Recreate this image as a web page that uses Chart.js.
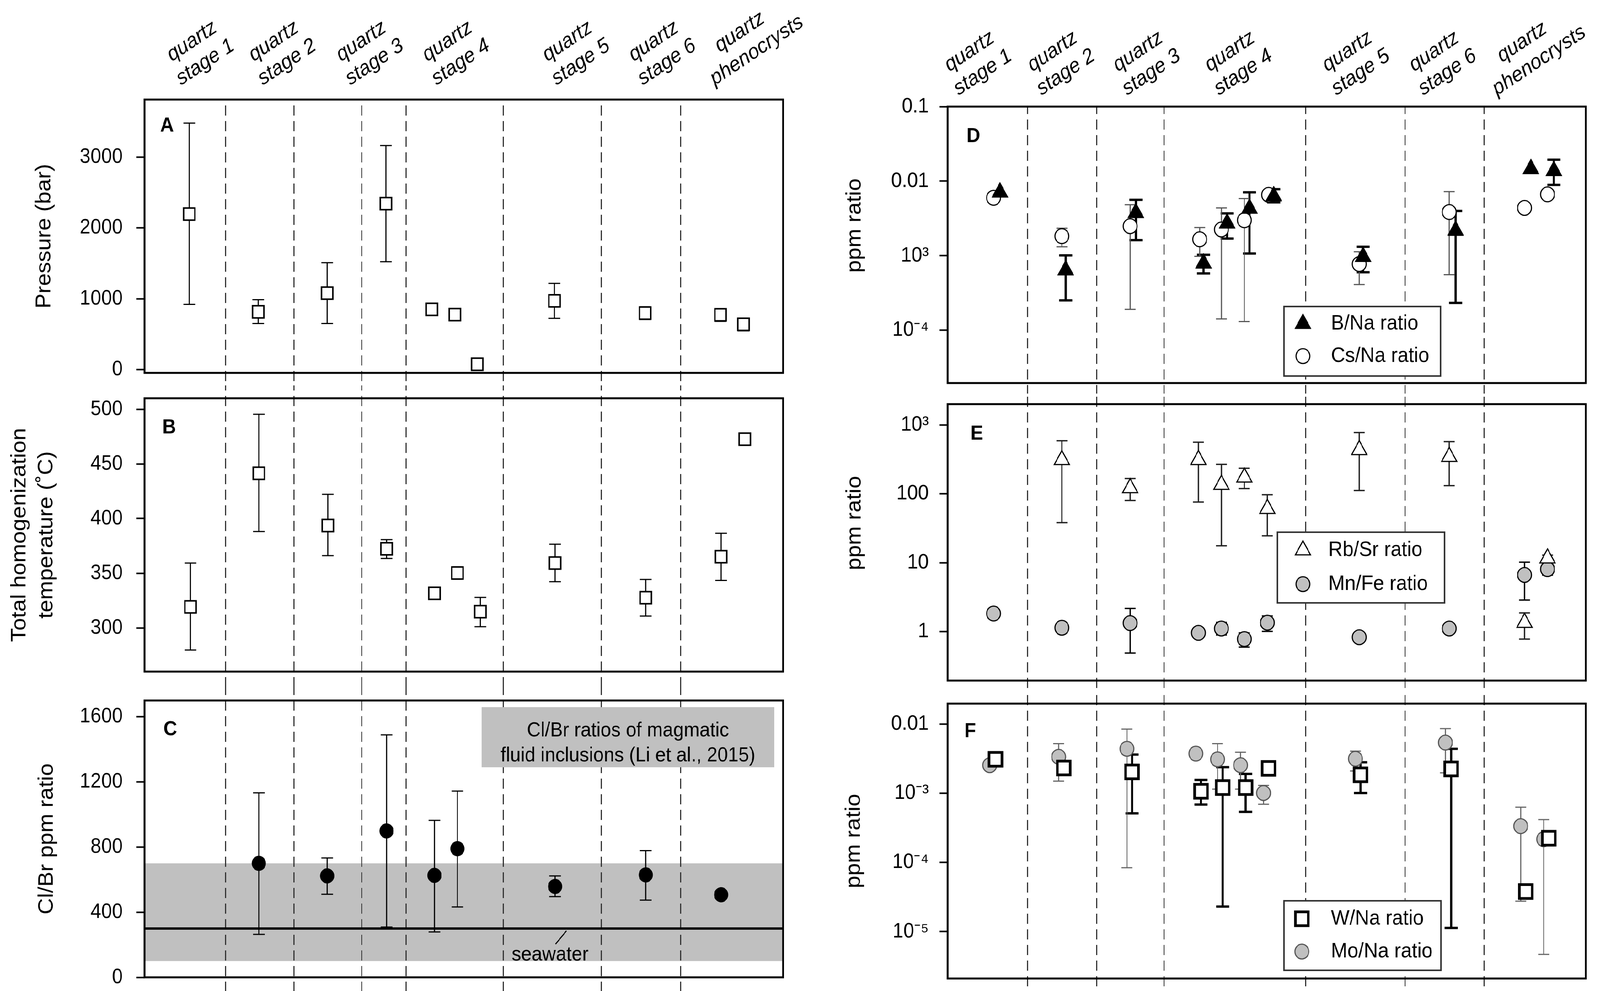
<!DOCTYPE html>
<html>
<head>
<meta charset="utf-8">
<title>Fluid inclusion data by quartz stage</title>
<script src="https://cdn.jsdelivr.net/npm/chart.js@4.4.1/dist/chart.umd.min.js"></script>
<style>
  html, body { margin: 0; padding: 0; background: #fff; overflow: hidden; width: 100%; height: 100%; }
  #frame { position: absolute; left: 0; top: 0; overflow: hidden; }
  #sheet { width: 4395px; height: 2538px; position: absolute; left: 0; top: 0; transform-origin: 0 0; }
  canvas { position: absolute; }
</style>
</head>
<body>
<div id="frame">
<div id="sheet">
<canvas id="pA"></canvas>
<canvas id="pB"></canvas>
<canvas id="pC"></canvas>
<canvas id="pD"></canvas>
<canvas id="pE"></canvas>
<canvas id="pF"></canvas>
</div>
</div>
<script>
const FONT = "'Liberation Sans', Arial, sans-serif";

// column headings (x in % of panel width)
const stageLabels = [
  ['\u2009quartz', 'stage 1'], ['\u2009quartz', 'stage 2'], ['\u2009quartz', 'stage 3'],
  ['\u2009quartz', 'stage 4'], ['\u2009quartz', 'stage 5'], ['\u2009quartz', 'stage 6'],
  ['   \u2009quartz', 'phenocrysts']
];
const leftLabelX  = [7.2, 20.0, 33.7, 47.2, 66.0, 79.5, 90.8];
const rightLabelX = [3.2, 16.2, 29.6, 44.0, 62.4, 76.0, 87.6];
const leftSeparators  = [12.66, 23.38, 33.98, 40.93, 56.16, 71.49, 83.92];
const rightSeparators = [12.49, 23.33, 33.89, 56.08, 71.65, 84.03];

// A - pressure (bar)
const aX  = [7.0, 17.8, 28.6, 37.8, 45.0, 48.6, 52.1, 64.2, 78.4, 90.2, 93.8];
const aP  = [2195, 816, 1080, 2342, 851, 777, 77, 971, 798, 774, 640];
const aHi = [3478, 988, 1509, 3162, 935, null, null, 1217, 886, 858, 724];
const aLo = [921, 651, 651, 1523, 770, null, null, 724, 710, 682, 549];
const aTicks = [0, 1000, 2000, 3000];

// B - total homogenization temperature
const bX  = [7.2, 17.9, 28.7, 37.9, 45.4, 49.0, 52.6, 64.3, 78.5, 90.3, 94.0];
const bT  = [319.2, 441.4, 393.6, 372.3, 331.6, 350.2, 314.8, 359.3, 327.6, 365.1, 472.6];
const bHi = [359.3, 495.4, 422.1, 380.7, null, null, 327.9, 376.5, 344.3, 386.5, null];
const bLo = [279.7, 388.1, 366.1, 363.5, null, null, 301.1, 342.2, 310.8, 343.4, null];
const bTicks = [300, 350, 400, 450, 500];

// C - Cl/Br
const cX  = [17.9, 28.6, 37.9, 45.4, 49.0, 64.3, 78.5, 90.3];
const cR  = [700, 623, 899, 626, 790, 558, 629, 507];
const cHi = [1133, 733, 1489, 964, 1144, 623, 778, null];
const cLo = [264, 510, 309, 279, 432, 496, 474, null];
const cTicks = [0, 400, 800, 1200, 1600];
const magmaticBand = [100, 700];
const seawaterClBr = 300;

// D - B/Na and Cs/Na
const dTriX = [8.2, 18.5, 29.5, 40.1, 43.8, 47.3, 51.1, 65.1, 79.6, 91.4, 95.0];
const dBNa  = [7.08e-3, 6.4e-4, 3.76e-3, 7.9e-4, 2.72e-3, 4.3e-3, 6.3e-3, 9.7e-4, 2.17e-3, 1.46e-2, 1.375e-2];
const dBHi  = [null, 1.01e-3, 5.62e-3, 1.03e-3, 3.7e-3, 7.08e-3, 7.8e-3, 1.32e-3, 3.99e-3, null, 1.94e-2];
const dBLo  = [null, 2.52e-4, 1.62e-3, 5.79e-4, 1.70e-3, 1.07e-3, 5.2e-3, 6.0e-4, 2.33e-4, null, 8.9e-3];
const dCirX = [7.2, 17.9, 28.6, 39.5, 42.9, 46.5, 50.3, 64.5, 78.6, 90.4, 94.0];
const dCsNa = [5.98e-3, 1.83e-3, 2.49e-3, 1.66e-3, 2.25e-3, 2.99e-3, 6.56e-3, 7.74e-4, 3.85e-3, 4.38e-3, 6.65e-3];
const dCsHi = [null, 2.34e-3, 4.83e-3, 2.39e-3, 4.37e-3, 5.85e-3, null, 1.13e-3, 7.24e-3, null, null];
const dCsLo = [null, 1.32e-3, 1.91e-4, 9.8e-4, 1.42e-4, 1.31e-4, null, 4.11e-4, 5.57e-4, null, null];
const dTicks = [1e-4, 1e-3, 1e-2, 1e-1];
const dTickText = ['10\u207B\u2074', '10\u00B3', '0.01', '0.1'];

// E - Rb/Sr and Mn/Fe
const eTriX = [17.9, 28.6, 39.3, 42.9, 46.5, 50.1, 64.5, 78.6, 90.4, 94.0];
const eRbSr = [311, 121.6, 311, 135.6, 173.3, 60.6, 432.6, 345, 1.35, 11.6];
const eRbHi = [589.6, 166.7, 560, 267, 234.6, 97, 773, 570.8, 1.87, 12.9];
const eRbLo = [38.1, 80, 76, 17.6, 119, 24.6, 111.7, 131.3, 0.78, 10];
const eCirX = [7.2, 17.9, 28.6, 39.3, 42.9, 46.5, 50.1, 64.5, 78.6, 90.4, 94.0];
const eMnFe = [1.83, 1.14, 1.33, 0.96, 1.11, 0.78, 1.35, 0.83, 1.11, 6.65, 8.07];
const eMnHi = [null, null, 2.17, null, 1.36, 0.96, 1.69, null, null, 10.2, 9.9];
const eMnLo = [null, null, 0.489, null, 0.895, 0.597, 1.01, null, null, 2.87, 6.6];
const eTicks = [1, 10, 100, 1000];
const eTickText = ['1', '10', '100', '10\u00B3'];

// F - W/Na and Mo/Na
const fSqX  = [7.5, 18.2, 28.9, 39.7, 43.1, 46.7, 50.3, 64.7, 78.9, 90.6, 94.2];
const fWNa  = [3.1e-3, 2.32e-3, 2.04e-3, 1.07e-3, 1.21e-3, 1.21e-3, 2.29e-3, 1.85e-3, 2.25e-3, 3.8e-5, 2.24e-4];
const fWHi  = [null, 2.9e-3, 3.63e-3, 1.56e-3, 2.39e-3, 1.91e-3, null, 2.81e-3, 4.4e-3, null, null];
const fWLo  = [null, 1.91e-3, 5.14e-4, 6.87e-4, 2.3e-5, 5.38e-4, null, 1.01e-3, 1.13e-5, null, null];
const fCirX = [6.6, 17.4, 28.1, 38.9, 42.3, 45.9, 49.5, 63.9, 78.0, 89.8, 93.4];
const fMoNa = [2.55e-3, 3.37e-3, 4.4e-3, 3.75e-3, 3.1e-3, 2.55e-3, 1.01e-3, 3.16e-3, 5.41e-3, 3.35e-4, 2.17e-4];
const fMoHi = [null, 5.23e-3, 8.47e-3, null, 5.23e-3, 3.93e-3, 1.3e-3, 4.07e-3, 8.63e-3, 6.3e-4, 4.17e-4];
const fMoLo = [null, 1.5e-3, 8.4e-5, null, 1.15e-3, 1.15e-3, 6.95e-4, 2.1e-3, 1.98e-3, 2.75e-5, 4.69e-6];
const fTicks = [1e-5, 1e-4, 1e-3, 1e-2];
const fTickText = ['10\u207B\u2075', '10\u207B\u2074', '10\u207B\u00B3', '0.01'];

// the sheet is laid out in 4395 x 2538 units; fit it to the real viewport
const sx = window.innerWidth / 4395, sy = window.innerHeight / 2538;
const frame = document.getElementById('frame');
frame.style.width = window.innerWidth + 'px';
frame.style.height = window.innerHeight + 'px';
document.getElementById('sheet').style.transform = 'scale(' + sx + ',' + sy + ')';
const dpr = (window.devicePixelRatio || 1) * Math.max(sx, sy);

Chart.defaults.color = '#000';
Chart.defaults.font.family = FONT;

const pts = (xs, ys) => xs.map((x, i) => ({ x, y: ys[i] }));

// fixed axis sizes so that the plot frames land where they should
function fitTo(size) {
  return s => {
    if (s.isHorizontal()) s.height = size; else s.width = size;
    s.paddingLeft = s.paddingRight = s.paddingTop = s.paddingBottom = 0;
  };
}

function yAxis(o) {
  return {
    type: o.type || 'linear', position: 'left', min: o.min, max: o.max,
    afterBuildTicks: s => { s.ticks = o.ticks.map(v => ({ value: v })); },
    afterFit: fitTo(o.width),
    ticks: {
      autoSkip: false, padding: o.tickPad, font: { size: 53 },
      callback: v => o.text ? o.text[o.ticks.indexOf(v)] : String(v)
    },
    grid: { drawOnChartArea: false, drawTicks: true, tickLength: 22, tickWidth: 4, tickColor: '#000' },
    border: { display: false },
    title: {
      display: true, text: o.title, padding: { top: o.titlePad, bottom: 0 },
      font: { size: 58, lineHeight: o.titleLH || 1.2 }
    }
  };
}

function topAxis(labelX, height, pad) {
  return {
    type: 'linear', position: 'top', min: 0, max: 100,
    afterBuildTicks: s => { s.ticks = labelX.map(v => ({ value: v })); },
    afterFit: fitTo(height),
    ticks: {
      autoSkip: false, minRotation: 32, maxRotation: 32, padding: pad,
      font: { size: 54, style: 'italic', lineHeight: 1.2 },
      callback: v => stageLabels[labelX.indexOf(v)]
    },
    grid: { display: false, drawTicks: false },
    border: { display: false }
  };
}

const decor = {
  id: 'decor',
  beforeDatasetsDraw(chart, args, o) {
    const { ctx, chartArea: a, scales } = chart;
    const y = scales.y;
    ctx.save();
    if (o.band) {
      const y1 = y.getPixelForValue(o.band[1]), y0 = y.getPixelForValue(o.band[0]);
      ctx.fillStyle = '#c0c0c0';
      ctx.fillRect(a.left, y1, a.right - a.left, y0 - y1);
    }
    // dashed stage separators
    const yStart = o.fromTop ? a.top : 0;
    ctx.strokeStyle = '#333';
    ctx.lineWidth = 3;
    ctx.setLineDash([26, 14]);
    ctx.lineDashOffset = -((o.pageY + yStart) % 40);
    o.separators.forEach(v => {
      const x = Math.round(scales.x.getPixelForValue(v)) + 0.5;
      ctx.beginPath(); ctx.moveTo(x, yStart); ctx.lineTo(x, chart.height); ctx.stroke();
    });
    ctx.setLineDash([]);
    if (o.note) {
      const n = o.note;
      ctx.fillStyle = '#c0c0c0';
      ctx.fillRect(a.left + n.x, a.top + n.y, n.w, n.h);
      ctx.fillStyle = '#000';
      ctx.font = '52px ' + FONT;
      ctx.textAlign = 'center'; ctx.textBaseline = 'middle';
      n.lines.forEach((t, i) => ctx.fillText(t, a.left + n.x + n.w / 2, a.top + n.y + n.lineY[i]));
    }
    if (o.seawater != null) {
      const sy = y.getPixelForValue(o.seawater);
      ctx.strokeStyle = '#000'; ctx.lineWidth = 6;
      ctx.beginPath(); ctx.moveTo(a.left, sy); ctx.lineTo(a.right, sy); ctx.stroke();
      const sx = a.left + o.seaLabel.x;
      ctx.lineWidth = 3;
      ctx.beginPath(); ctx.moveTo(sx + 45, sy + 6); ctx.lineTo(sx + 15, sy + 40); ctx.stroke();
      ctx.fillStyle = '#000';
      ctx.font = '52px ' + FONT;
      ctx.textAlign = 'center'; ctx.textBaseline = 'middle';
      ctx.fillText('seawater', sx, sy + 68);
    }
    // error bars
    chart.data.datasets.forEach((ds, i) => {
      if (!ds.hi) return;
      const meta = chart.getDatasetMeta(i);
      ctx.strokeStyle = ds.errColor; ctx.lineWidth = ds.errWidth;
      meta.data.forEach((pt, j) => {
        if (ds.hi[j] == null) return;
        const yh = y.getPixelForValue(ds.hi[j]), yl = y.getPixelForValue(ds.lo[j]);
        const c = ds.errCap;
        ctx.beginPath();
        ctx.moveTo(pt.x, yh); ctx.lineTo(pt.x, yl);
        ctx.moveTo(pt.x - c, yh); ctx.lineTo(pt.x + c, yh);
        ctx.moveTo(pt.x - c, yl); ctx.lineTo(pt.x + c, yl);
        ctx.stroke();
      });
    });
    ctx.restore();
  },
  afterDraw(chart, args, o) {
    const { ctx, chartArea: a } = chart;
    ctx.save();
    if (o.legend) {
      const L = o.legend;
      const bx = a.left + L.x, by = a.top + L.y;
      ctx.fillStyle = '#fff';
      ctx.fillRect(bx, by, L.w, L.h);
      ctx.strokeStyle = '#333'; ctx.lineWidth = 4;
      ctx.strokeRect(bx, by, L.w, L.h);
      L.rows.forEach((dy, i) => {
        const ds = chart.data.datasets[i];
        ctx.fillStyle = ds.pointBackgroundColor;
        ctx.strokeStyle = ds.pointBorderColor;
        ctx.lineWidth = ds.pointBorderWidth;
        Chart.helpers.drawPoint(ctx, {
          pointStyle: ds.pointStyle, radius: ds.pointRadius,
          borderWidth: ds.pointBorderWidth, rotation: 0
        }, bx + L.symX, by + dy);
        ctx.fillStyle = '#000';
        ctx.font = '54px ' + FONT;
        ctx.textAlign = 'left'; ctx.textBaseline = 'middle';
        ctx.fillText(ds.label, bx + L.textX, by + dy);
      });
    }
    // plot frame
    ctx.strokeStyle = '#000'; ctx.lineWidth = 5;
    ctx.strokeRect(a.left, a.top, a.right - a.left, a.bottom - a.top);
    // panel letter
    ctx.fillStyle = '#000';
    ctx.font = 'bold 52px ' + FONT;
    ctx.textAlign = 'left'; ctx.textBaseline = 'alphabetic';
    ctx.fillText(o.letter, a.left + o.letterAt[0], a.top + o.letterAt[1]);
    ctx.restore();
  }
};

function set(label, xs, ys, hi, lo, look, err) {
  return Object.assign({
    label, data: pts(xs, ys), hi, lo,
    errColor: err[0], errWidth: err[1], errCap: err[2]
  }, look);
}

const openSquare = { pointStyle: 'rect', pointRadius: 22, pointBackgroundColor: '#fff', pointBorderColor: '#000', pointBorderWidth: 4 };
const blackDot   = { pointStyle: 'circle', pointRadius: 19, pointBackgroundColor: '#000', pointBorderColor: '#000', pointBorderWidth: 1 };
const thinErr = ['#000', 3, 16];
// the ppm-ratio titles sit a little above centre in D and E
const ppmTitleHigh = '\u2003\u2002\u2009ppm ratio';

function makePanel(id, box, datasets, scales, decorOpts) {
  const c = document.getElementById(id);
  Object.assign(c.style, { left: box.x + 'px', top: box.y + 'px', width: box.w + 'px', height: box.h + 'px' });
  c.width = box.w; c.height = box.h;
  return new Chart(c, {
    type: 'scatter',
    data: { datasets },
    options: {
      responsive: false, maintainAspectRatio: false, devicePixelRatio: dpr,
      animation: false, events: [],
      layout: { padding: { left: 0, right: box.right, top: box.top, bottom: box.bottom } },
      scales: Object.assign({ x: { type: 'linear', min: 0, max: 100, display: false } }, scales),
      plugins: { legend: { display: false }, tooltip: { enabled: false }, decor: Object.assign({ pageY: box.y }, decorOpts) }
    },
    plugins: [decor]
  });
}

// left column
makePanel('pA', { x: 0, y: 0, w: 2300, h: 987, right: 149, top: 0, bottom: 32 },
  [set('Pressure', aX, aP, aHi, aLo, openSquare, thinErr)],
  {
    xTop: topAxis(leftLabelX, 255, 21),
    y: yAxis({ min: -45, max: 3810, ticks: aTicks, width: 397, tickPad: 38, title: 'Pressure (bar)', titlePad: 87 })
  },
  { separators: leftSeparators, fromTop: true, letter: 'A', letterAt: [43, 82] });

makePanel('pB', { x: 0, y: 987, w: 2300, h: 770, right: 149, top: 33, bottom: 37 },
  [set('Temperature', bX, bT, bHi, bLo, openSquare, thinErr)],
  {
    y: yAxis({ min: 260, max: 510, ticks: bTicks, width: 397, tickPad: 38,
      title: ['Total homogenization', 'temperature (\u02DAC)'], titlePad: 17, titleLH: 74 / 58 })
  },
  { separators: leftSeparators, letter: 'B', letterAt: [49, 90] });

makePanel('pC', { x: 0, y: 1757, w: 2300, h: 781, right: 149, top: 37, bottom: 35 },
  [set('Cl/Br', cX, cR, cHi, cLo, blackDot, thinErr)],
  {
    y: yAxis({ min: 0, max: 1700, ticks: cTicks, width: 397, tickPad: 38, title: 'Cl/Br ppm ratio', titlePad: 94 })
  },
  {
    separators: leftSeparators, letter: 'C', letterAt: [52, 89],
    band: magmaticBand, seawater: seawaterClBr, seaLabel: { x: 1114 },
    note: { x: 926, y: 17, w: 804, h: 154, lineY: [61, 125],
      lines: ['Cl/Br ratios of magmatic', 'fluid inclusions (Li et al., 2015)'] }
  });

// right column
makePanel('pD', { x: 2200, y: 0, w: 2195, h: 1008, right: 39, top: 0, bottom: 22 },
  [
    set('B/Na ratio', dTriX, dBNa, dBHi, dBLo,
      { pointStyle: 'triangle', pointRadius: 26, pointBackgroundColor: '#000', pointBorderColor: '#000', pointBorderWidth: 1 },
      ['#000', 6, 18]),
    set('Cs/Na ratio', dCirX, dCsNa, dCsHi, dCsLo,
      { pointStyle: 'circle', pointRadius: 19, pointBackgroundColor: '#fff', pointBorderColor: '#000', pointBorderWidth: 3 },
      ['#555', 3, 15])
  ],
  {
    xTop: topAxis(rightLabelX, 273, 13),
    y: yAxis({ type: 'logarithmic', min: 1.96e-5, max: 0.1, ticks: dTicks, text: dTickText, width: 403, tickPad: 30, title: ppmTitleHigh, titlePad: 113 })
  },
  {
    separators: rightSeparators, fromTop: true, letter: 'D', letterAt: [52, 91],
    legend: { x: 924, y: 512, w: 430, h: 178, symX: 52, textX: 129, rows: [44, 127] }
  });

makePanel('pE', { x: 2200, y: 1008, w: 2195, h: 762, right: 39, top: 23, bottom: 26 },
  [
    set('Rb/Sr ratio', eTriX, eRbSr, eRbHi, eRbLo,
      { pointStyle: 'triangle', pointRadius: 24, pointBackgroundColor: '#fff', pointBorderColor: '#000', pointBorderWidth: 3 },
      ['#222', 3.5, 15]),
    set('Mn/Fe ratio', eCirX, eMnFe, eMnHi, eMnLo,
      { pointStyle: 'circle', pointRadius: 19, pointBackgroundColor: '#c0c0c0', pointBorderColor: '#000', pointBorderWidth: 3 },
      ['#000', 3.5, 15])
  ],
  {
    y: yAxis({ type: 'logarithmic', min: 0.195, max: 2000, ticks: eTicks, text: eTickText, width: 403, tickPad: 30, title: ppmTitleHigh, titlePad: 113 })
  },
  {
    separators: rightSeparators, letter: 'E', letterAt: [63, 91],
    legend: { x: 906, y: 328, w: 459, h: 181, symX: 70, textX: 140, rows: [46, 133] }
  });

makePanel('pF', { x: 2200, y: 1770, w: 2195, h: 768, right: 39, top: 27, bottom: 31 },
  [
    set('W/Na ratio', fSqX, fWNa, fWHi, fWLo,
      { pointStyle: 'rect', pointRadius: 25, pointBackgroundColor: '#fff', pointBorderColor: '#000', pointBorderWidth: 7 },
      ['#000', 6, 18]),
    set('Mo/Na ratio', fCirX, fMoNa, fMoHi, fMoLo,
      { pointStyle: 'circle', pointRadius: 19, pointBackgroundColor: '#c0c0c0', pointBorderColor: '#555', pointBorderWidth: 3 },
      ['#666', 3, 15])
  ],
  {
    y: yAxis({ type: 'logarithmic', min: 2.1e-6, max: 0.0198, ticks: fTicks, text: fTickText, width: 403, tickPad: 30, title: 'ppm ratio', titlePad: 111 })
  },
  {
    separators: rightSeparators, letter: 'F', letterAt: [46, 86],
    legend: { x: 924, y: 505, w: 431, h: 178, symX: 49, textX: 129, rows: [46, 130] }
  });
</script>
</body>
</html>
